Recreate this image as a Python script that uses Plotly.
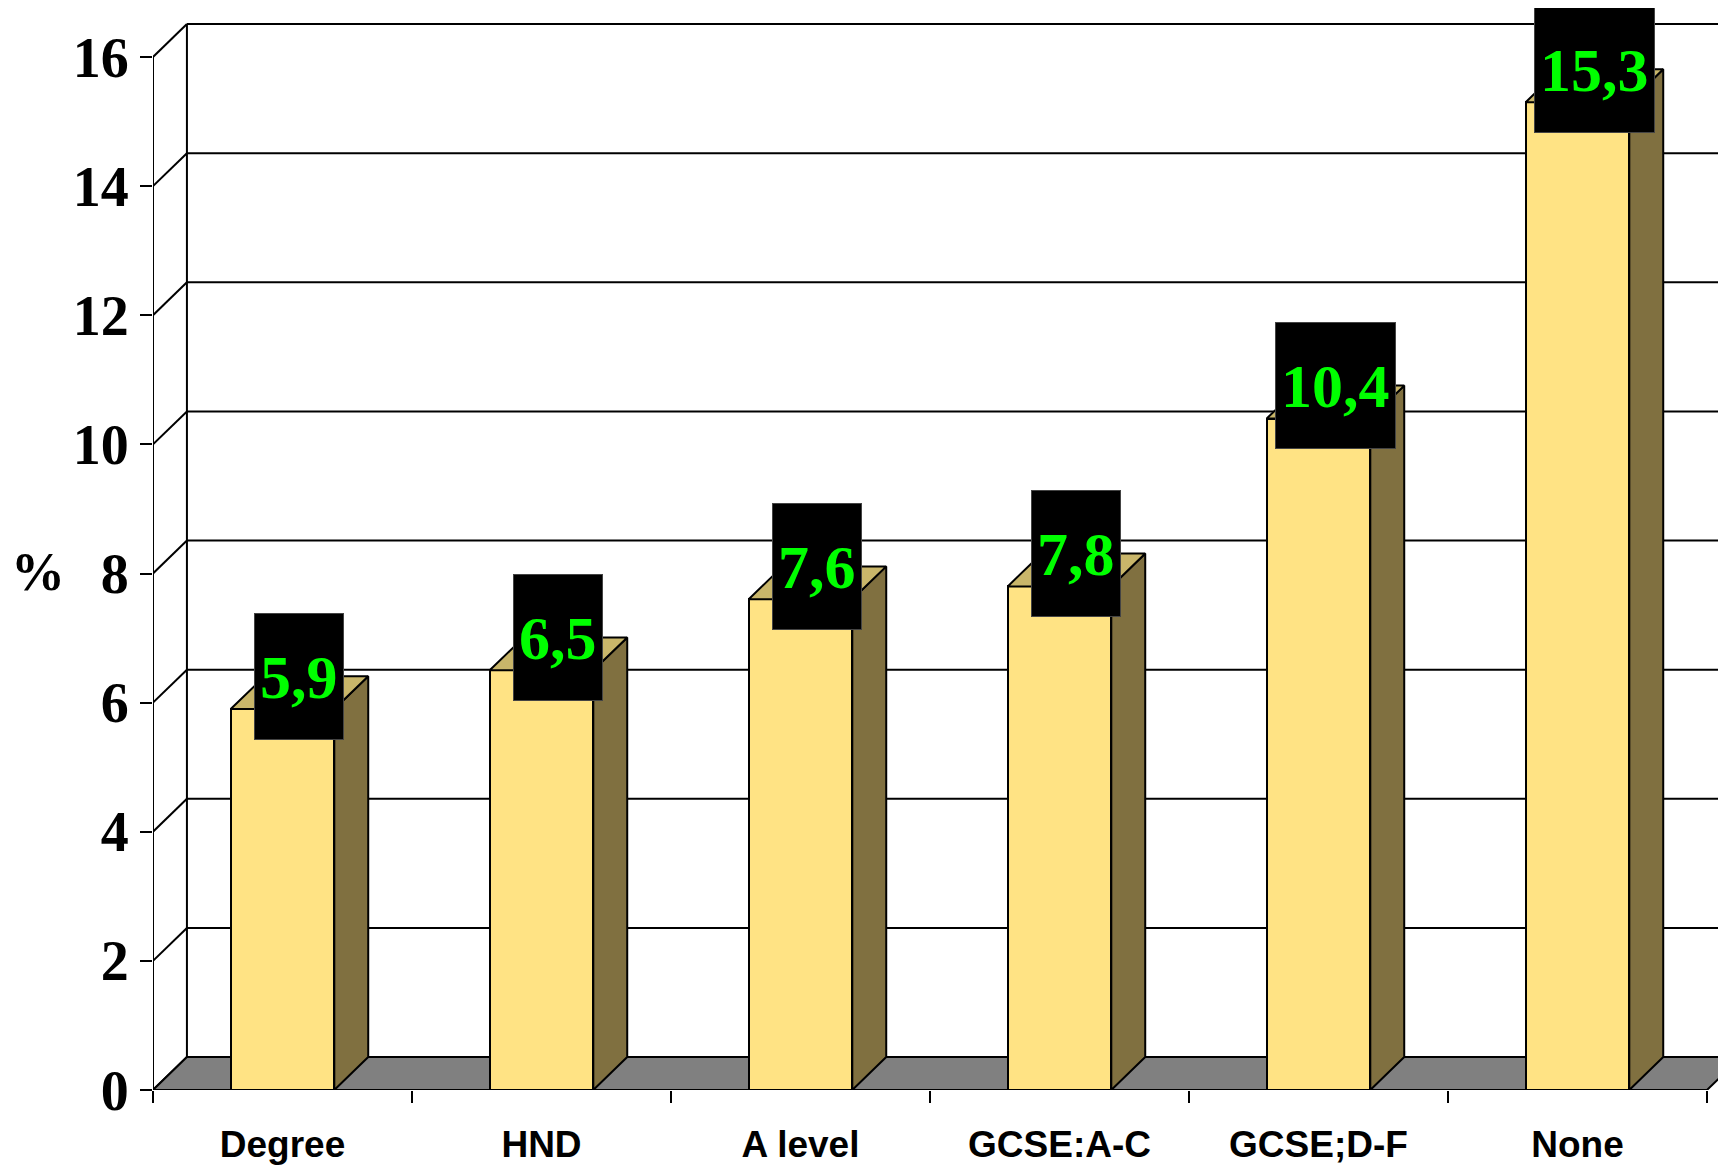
import plotly.graph_objects as go

# data
categories = ["Degree", "HND", "A level", "GCSE:A-C", "GCSE;D-F", "None"]
values = [5.9, 6.5, 7.6, 7.8, 10.4, 15.3]
value_labels = ["5,9", "6,5", "7,6", "7,8", "10,4", "15,3"]
y_ticks = [0, 2, 4, 6, 8, 10, 12, 14, 16]

# fake 3D look: depth offset in data units
dx = 0.131
dy = 0.51
bar_w = 0.4
x_pos = list(range(len(categories)))
x_left = -0.5
x_right = len(categories) - 0.5
y_top = max(y_ticks)

front_col = "#FFE384"
side_col = "#807040"
top_col = "#C9B66A"
floor_col = "#808080"
line = dict(color="black", width=2)

fig = go.Figure()

# front faces
fig.add_trace(go.Bar(x=x_pos, y=values, width=bar_w, marker=dict(color=front_col, line=line),
                     showlegend=False, hoverinfo="skip"))

# side and top faces
for i, v in zip(x_pos, values):
    xr = i + bar_w / 2
    xl = i - bar_w / 2
    fig.add_trace(go.Scatter(x=[xr, xr + dx, xr + dx, xr, xr], y=[0, dy, v + dy, v, 0],
                             fill="toself", fillcolor=side_col, mode="lines", line=line,
                             showlegend=False, hoverinfo="skip"))
    fig.add_trace(go.Scatter(x=[xl, xl + dx, xr + dx, xr, xl], y=[v, v + dy, v + dy, v, v],
                             fill="toself", fillcolor=top_col, mode="lines", line=line,
                             showlegend=False, hoverinfo="skip"))

# back wall gridlines, diagonals, front axis (drawn below traces)
shapes = []
for t in y_ticks:
    shapes.append(dict(type="line", layer="below", x0=x_left + dx, x1=x_right + 2, y0=t + dy, y1=t + dy, line=line))
    shapes.append(dict(type="line", layer="below", x0=x_left, x1=x_left + dx, y0=t, y1=t + dy, line=line))
shapes.append(dict(type="line", layer="below", x0=x_left + dx, x1=x_left + dx, y0=dy, y1=y_top + dy, line=line))
shapes.append(dict(type="line", layer="below", x0=x_left, x1=x_left, y0=0, y1=y_top, line=line))
# floor
shapes.append(dict(type="path", layer="below",
                   path=f"M {x_left},0 L {x_left + dx},{dy} L {x_right + dx},{dy} L {x_right},0 Z",
                   fillcolor=floor_col, line=line))

# value labels
for i, v, lab in zip(x_pos, values, value_labels):
    fig.add_annotation(x=i + dx / 2, y=v + dy, text=lab, showarrow=False,
                       font=dict(family="Liberation Serif, Times New Roman", size=62, color="#00FF00", weight="bold"),
                       bgcolor="black", bordercolor="#444", borderwidth=1, borderpad=5, height=115)

fig.add_annotation(xref="paper", yref="paper", x=-115 / 1581, y=(1082 - 564) / 1082, xanchor="center",
                   text="%", showarrow=False,
                   font=dict(family="Liberation Serif, Times New Roman", size=54, color="black", weight="bold"))

fig.update_layout(
    width=1726, height=1166,
    margin=dict(l=145, r=0, t=0, b=84),
    plot_bgcolor="white", paper_bgcolor="white",
    shapes=shapes,
    bargap=0,
    xaxis=dict(range=[x_left, x_left + 1581 / 259], tickvals=x_pos, ticktext=categories,
               ticks="", showgrid=False, zeroline=False, showline=False,
               tickfont=dict(family="Liberation Sans, Arial", size=37, color="black", weight="bold"),
               ticklabelstandoff=29,
               minor=dict(tickmode="array", tickvals=[x_left + k for k in range(len(categories) + 1)],
                          ticks="outside", ticklen=12, tickwidth=2, tickcolor="black", showgrid=False)),
    yaxis=dict(range=[0, 16 + 49 / 64.56], tickvals=y_ticks, ticks="outside", ticklen=12, tickwidth=2,
               tickcolor="black", showgrid=False, zeroline=False, showline=False,
               tickfont=dict(family="Liberation Serif, Times New Roman", size=56, color="black", weight="bold")),
)

fig.write_html("out.html")
